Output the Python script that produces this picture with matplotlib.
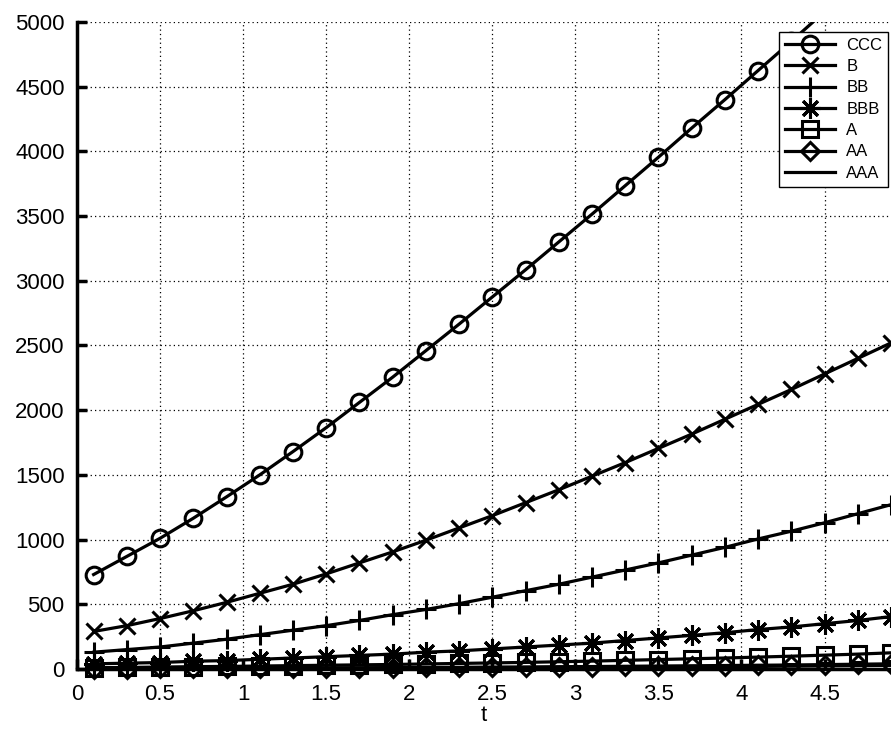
import matplotlib.pyplot as plt
import numpy as np

plt.rcParams['font.family'] = ['Liberation Sans', 'DejaVu Sans']

t = [0.1, 0.3, 0.5, 0.7, 0.9, 1.1, 1.3, 1.5, 1.7, 1.9, 2.1, 2.3, 2.5,
     2.7, 2.9, 3.1, 3.3, 3.5, 3.7, 3.9, 4.1, 4.3, 4.5, 4.7, 4.9]

ccc = [730, 870, 1010, 1165, 1330, 1500, 1680, 1865, 2060, 2255, 2460, 2665, 2875,
       3085, 3300, 3515, 3735, 3955, 4180, 4400, 4625, 4850, 5080, 5310, 5540]
b = [290, 335, 390, 450, 515, 585, 655, 735, 820, 905, 995, 1090, 1185,
     1285, 1385, 1490, 1595, 1705, 1815, 1930, 2045, 2160, 2280, 2400, 2520]
bb = [130, 150, 170, 200, 230, 265, 300, 335, 375, 420, 460, 505, 555,
      605, 655, 710, 765, 820, 880, 940, 1005, 1065, 1130, 1200, 1270]
bbb = [40, 45, 50, 60, 65, 75, 85, 95, 105, 115, 130, 140, 155,
       170, 185, 200, 220, 240, 260, 280, 305, 325, 350, 375, 405]
a = [10, 12, 15, 18, 20, 23, 26, 29, 32, 35, 39, 43, 47,
     51, 56, 61, 67, 73, 79, 85, 92, 99, 107, 115, 125]
aa = [2, 3, 4, 5, 6, 7, 8, 9, 10, 11, 12, 13, 15,
      16, 18, 19, 21, 23, 25, 27, 29, 31, 34, 37, 40]
aaa = [1, 1, 2, 2, 3, 3, 4, 5, 5, 6, 7, 8, 9,
       10, 11, 12, 13, 15, 16, 18, 20, 22, 24, 26, 28]

# name, values, marker, marker size, clipped to axes
series = [
    ('CCC', ccc, 'o', 12, True),
    ('B', b, 'x', 11, False),
    ('BB', bb, '+', 15, False),
    ('BBB', bbb, (8, 2, 0), 15, False),
    ('A', a, 's', 11, False),
    ('AA', aa, 'D', 9, False),
    ('AAA', aaa, None, 0, False),
]

fig = plt.figure(figsize=(8.91, 7.31), dpi=100)
ax = fig.add_axes([77 / 891, 62 / 731, 814 / 891, 647 / 731])

for name, vals, mk, ms, clip in series:
    ax.plot(t, vals, color='black', linewidth=2.3, marker=mk, markersize=ms,
            markerfacecolor='none', markeredgewidth=2.2, label=name, clip_on=clip)

ax.set_xlim(0, 4.9)
ax.set_ylim(0, 5000)
ax.set_xticks([0, 0.5, 1, 1.5, 2, 2.5, 3, 3.5, 4, 4.5])
ax.set_xticklabels(['0', '0.5', '1', '1.5', '2', '2.5', '3', '3.5', '4', '4.5'])
ax.set_yticks(np.arange(0, 5001, 500))
ax.tick_params(direction='in', length=7, width=2.5, labelsize=16)
ax.tick_params(axis='x', pad=11)
ax.tick_params(axis='y', pad=9)
ax.grid(True, color='black', linestyle=(0, (1, 2.5)), linewidth=0.9)
ax.spines['top'].set_visible(False)
ax.spines['right'].set_visible(False)
ax.spines['left'].set_linewidth(2.5)
ax.spines['bottom'].set_linewidth(2.5)
ax.set_xlabel('t', fontsize=16)
ax.xaxis.set_label_coords(0.5, -0.056)

leg = ax.legend(loc='upper right', bbox_to_anchor=(888 / 891, 699 / 731),
                bbox_transform=fig.transFigure, fontsize=12, frameon=True,
                fancybox=False, handlelength=3.0, handletextpad=0.7,
                labelspacing=0.38, borderpad=0.35, borderaxespad=0,
                edgecolor='black', framealpha=1)
leg.get_frame().set_linewidth(1.0)

plt.savefig('out.png', dpi=100)
